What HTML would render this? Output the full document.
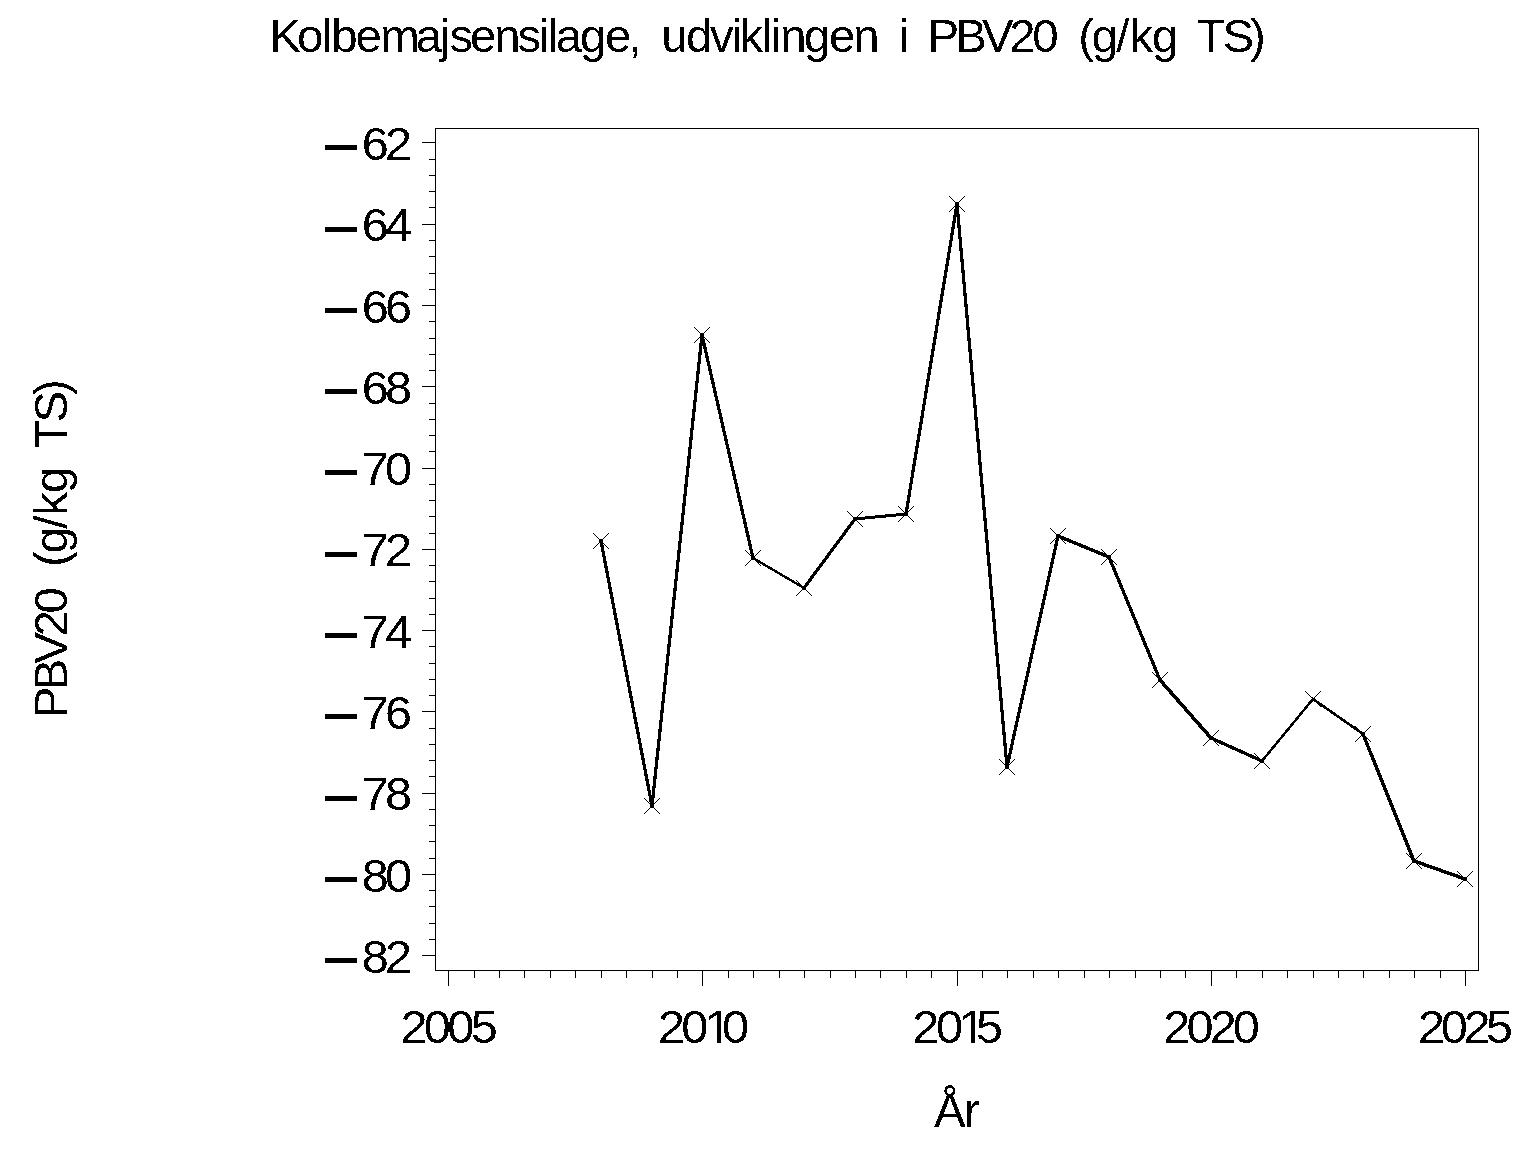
<!DOCTYPE html>
<html lang="da">
<head>
<meta charset="utf-8">
<title>Kolbemajsensilage, udviklingen i PBV20 (g/kg TS)</title>
<style>
html,body{margin:0;padding:0;background:#fff;}
body{width:1536px;height:1152px;overflow:hidden;}
svg{display:block;}
text{font-family:"Liberation Sans",sans-serif;fill:#000;white-space:pre;}
.t{font-size:46.5px;}
.d{font-size:45.5px;}
.crisp{shape-rendering:crispEdges;}
</style>
</head>
<body>
<svg width="1536" height="1152" viewBox="0 0 1536 1152">
<defs>
<filter id="na" x="0" y="0" width="1536" height="1152" filterUnits="userSpaceOnUse" color-interpolation-filters="sRGB">
<feComponentTransfer><feFuncA type="discrete" tableValues="0 1"/></feComponentTransfer>
</filter>
<clipPath id="c0" clipPathUnits="userSpaceOnUse"><path clip-rule="evenodd" d="M0 0H1536V1152H0ZM707.05 1039.1H716.75V1044H707.05ZM721.15 1039.1H727.55L729.75 1041V1044H721.15Z"/></clipPath>
<clipPath id="c1" clipPathUnits="userSpaceOnUse"><path clip-rule="evenodd" d="M0 0H1536V1152H0ZM960.95 1039.1H970.65V1044H960.95ZM975.05 1039.1H981.45L983.65 1041V1044H975.05Z"/></clipPath>
</defs>
<rect x="0" y="0" width="1536" height="1152" fill="#fff"/>
<g filter="url(#na)">

<g class="crisp" stroke="#000" stroke-width="1" fill="none">
<rect x="435.5" y="128.5" width="1043.0" height="842.0"/>
<path d="M422 142.5H435.5M429 159.5H435.5M429 175.5H435.5M429 191.5H435.5M429 207.5H435.5M422 224.5H435.5M429 240.5H435.5M429 256.5H435.5M429 273.5H435.5M429 289.5H435.5M422 305.5H435.5M429 321.5H435.5M429 338.5H435.5M429 354.5H435.5M429 370.5H435.5M422 386.5H435.5M429 403.5H435.5M429 419.5H435.5M429 435.5H435.5M429 451.5H435.5M422 468.5H435.5M429 484.5H435.5M429 500.5H435.5M429 516.5H435.5M429 533.5H435.5M422 549.5H435.5M429 565.5H435.5M429 581.5H435.5M429 598.5H435.5M429 614.5H435.5M422 630.5H435.5M429 646.5H435.5M429 663.5H435.5M429 679.5H435.5M429 695.5H435.5M422 711.5H435.5M429 728.5H435.5M429 744.5H435.5M429 760.5H435.5M429 776.5H435.5M422 793.5H435.5M429 809.5H435.5M429 825.5H435.5M429 841.5H435.5M429 858.5H435.5M422 874.5H435.5M429 890.5H435.5M429 906.5H435.5M429 923.5H435.5M429 939.5H435.5M422 955.5H435.5M448.5 970.5V986M474.5 970.5V978M499.5 970.5V978M524.5 970.5V978M550.5 970.5V978M575.5 970.5V978M601.5 970.5V978M626.5 970.5V978M652.5 970.5V978M677.5 970.5V978M702.5 970.5V986M728.5 970.5V978M753.5 970.5V978M779.5 970.5V978M804.5 970.5V978M830.5 970.5V978M855.5 970.5V978M880.5 970.5V978M906.5 970.5V978M931.5 970.5V978M957.5 970.5V986M982.5 970.5V978M1007.5 970.5V978M1033.5 970.5V978M1058.5 970.5V978M1084.5 970.5V978M1109.5 970.5V978M1135.5 970.5V978M1160.5 970.5V978M1185.5 970.5V978M1211.5 970.5V986M1236.5 970.5V978M1262.5 970.5V978M1287.5 970.5V978M1313.5 970.5V978M1338.5 970.5V978M1363.5 970.5V978M1389.5 970.5V978M1414.5 970.5V978M1440.5 970.5V978M1465.5 970.5V986"/>
</g>
<g class="crisp" stroke="#000" fill="none" stroke-linecap="square">
<line x1="601" y1="541" x2="652" y2="806" stroke-width="3.25"/>
<line x1="652" y1="806" x2="702" y2="335" stroke-width="3.25"/>
<line x1="702" y1="335" x2="753" y2="558" stroke-width="3.25"/>
<line x1="753" y1="558" x2="804" y2="588" stroke-width="2.4"/>
<line x1="804" y1="588" x2="855" y2="519" stroke-width="3.2"/>
<line x1="855" y1="519" x2="906" y2="514" stroke-width="3"/>
<line x1="906" y1="514" x2="957" y2="204" stroke-width="3.25"/>
<line x1="957" y1="204" x2="1007" y2="767" stroke-width="3.25"/>
<line x1="1007" y1="767" x2="1058" y2="536" stroke-width="3.25"/>
<line x1="1058" y1="536" x2="1109" y2="557" stroke-width="3.4"/>
<line x1="1109" y1="557" x2="1160" y2="680" stroke-width="3.3"/>
<line x1="1160" y1="680" x2="1211" y2="738" stroke-width="3.6"/>
<line x1="1211" y1="738" x2="1262" y2="761" stroke-width="3.3"/>
<line x1="1262" y1="761" x2="1313" y2="699" stroke-width="2.5"/>
<line x1="1313" y1="699" x2="1363" y2="734" stroke-width="2.6"/>
<line x1="1363" y1="734" x2="1414" y2="861" stroke-width="3.5"/>
<line x1="1414" y1="861" x2="1465" y2="879" stroke-width="3.5"/>
</g>
<g class="crisp" stroke="#000" stroke-width="1" fill="none">
<path d="M593.2 533.2L608.8 548.8M593.2 548.8L608.8 533.2M644.2 798.2L659.8 813.8M644.2 813.8L659.8 798.2M694.2 327.2L709.8 342.8M694.2 342.8L709.8 327.2M745.2 550.2L760.8 565.8M745.2 565.8L760.8 550.2M796.2 580.2L811.8 595.8M796.2 595.8L811.8 580.2M847.2 511.2L862.8 526.8M847.2 526.8L862.8 511.2M898.2 506.2L913.8 521.8M898.2 521.8L913.8 506.2M949.2 196.2L964.8 211.8M949.2 211.8L964.8 196.2M999.2 759.2L1014.8 774.8M999.2 774.8L1014.8 759.2M1050.2 528.2L1065.8 543.8M1050.2 543.8L1065.8 528.2M1101.2 549.2L1116.8 564.8M1101.2 564.8L1116.8 549.2M1152.2 672.2L1167.8 687.8M1152.2 687.8L1167.8 672.2M1203.2 730.2L1218.8 745.8M1203.2 745.8L1218.8 730.2M1254.2 753.2L1269.8 768.8M1254.2 768.8L1269.8 753.2M1305.2 691.2L1320.8 706.8M1305.2 706.8L1320.8 691.2M1355.2 726.2L1370.8 741.8M1355.2 741.8L1370.8 726.2M1406.2 853.2L1421.8 868.8M1406.2 868.8L1421.8 853.2M1457.2 871.2L1472.8 886.8M1457.2 886.8L1472.8 871.2"/>
</g>
<g class="t">
<g id="title">
<text transform="scale(1.02,1)" x="264.34 291.09 315.51 324.68 348.44 372.73 407.55 431.21 440.65 460.69 484.58 507.29 528.13 536.98 544.91 568.57 593.10 616.14" y="52">Kolbemajsensilage,</text>
<text transform="scale(1.02,1)" x="648.30 672.44 696.17 717.39 725.06 746.93 755.73 765.03 788.13 812.65 836.59" y="52">udviklingen</text>
<text transform="scale(1.02,1)" x="881.07" y="52">i</text>
<text transform="scale(1.02,1)" x="909.20 936.56 962.63 989.52 1011.97" y="52">PBV20</text>
<text transform="scale(1.02,1)" x="1057.08 1070.39 1094.47 1107.31 1129.43" y="52">(g/kg</text>
<text transform="scale(1.02,1)" x="1173.02 1198.43 1225.47" y="52">TS)</text>
</g>
<text transform="translate(0,1127) scale(1.02,1.05)" x="915.62 945.02" y="0">År</text>
<g id="ylabel">
<text transform="translate(67,713.9) rotate(-90) scale(1.02,1)" x="-4.33 23.03 49.10 75.99 98.44" y="0">PBV20</text>
<text transform="translate(67,713.3) rotate(-90) scale(1.02,1)" x="143.55 156.86 180.94 193.78 215.90" y="0">(g/kg</text>
<text transform="translate(67,713.1) rotate(-90) scale(1.02,1)" x="259.49 284.90 311.95" y="0">TS)</text>
</g>
</g>
<g class="d">
<g><text transform="translate(321.75,170.82) scale(1.432,1.525)" style="font-size:46.0px">−</text><text transform="scale(1.07,1)" x="338.06 359.89" y="160">62</text></g>
<g><text transform="translate(321.75,252.82) scale(1.432,1.525)" style="font-size:46.0px">−</text><text transform="scale(1.07,1)" x="338.06 360.04" y="241">64</text></g>
<g><text transform="translate(321.75,333.82) scale(1.432,1.525)" style="font-size:46.0px">−</text><text transform="scale(1.07,1)" x="338.06 359.74" y="323">66</text></g>
<g><text transform="translate(321.75,414.82) scale(1.432,1.525)" style="font-size:46.0px">−</text><text transform="scale(1.07,1)" x="338.06 359.89" y="404">68</text></g>
<g><text transform="translate(321.75,495.82) scale(1.432,1.525)" style="font-size:46.0px">−</text><text transform="scale(1.07,1)" x="338.19 359.89" y="485">70</text></g>
<g><text transform="translate(321.75,577.82) scale(1.432,1.525)" style="font-size:46.0px">−</text><text transform="scale(1.07,1)" x="338.19 359.89" y="566">72</text></g>
<g><text transform="translate(321.75,658.82) scale(1.432,1.525)" style="font-size:46.0px">−</text><text transform="scale(1.07,1)" x="338.19 360.04" y="648">74</text></g>
<g><text transform="translate(321.75,739.82) scale(1.432,1.525)" style="font-size:46.0px">−</text><text transform="scale(1.07,1)" x="338.19 359.74" y="729">76</text></g>
<g><text transform="translate(321.75,821.82) scale(1.432,1.525)" style="font-size:46.0px">−</text><text transform="scale(1.07,1)" x="338.19 359.89" y="810">78</text></g>
<g><text transform="translate(321.75,902.82) scale(1.432,1.525)" style="font-size:46.0px">−</text><text transform="scale(1.07,1)" x="338.21 359.89" y="892">80</text></g>
<g><text transform="translate(321.75,983.82) scale(1.432,1.525)" style="font-size:46.0px">−</text><text transform="scale(1.07,1)" x="338.21 359.89" y="973">82</text></g>
<text transform="scale(1.07,1)" x="374.19 396.06 417.93 439.85" y="1043">2005</text>
<g clip-path="url(#c0)"><text transform="scale(1.07,1)" x="615.03 636.72 658.46 674.66" y="1043">2010</text></g>
<g clip-path="url(#c1)"><text transform="scale(1.07,1)" x="852.47 874.89 895.75 912.18" y="1043">2015</text></g>
<text transform="scale(1.07,1)" x="1087.18 1108.87 1130.55 1152.14" y="1043">2020</text>
<text transform="scale(1.07,1)" x="1325.22 1346.53 1367.84 1388.82" y="1043">2025</text>
</g>
</g>
</svg>
</body>
</html>
